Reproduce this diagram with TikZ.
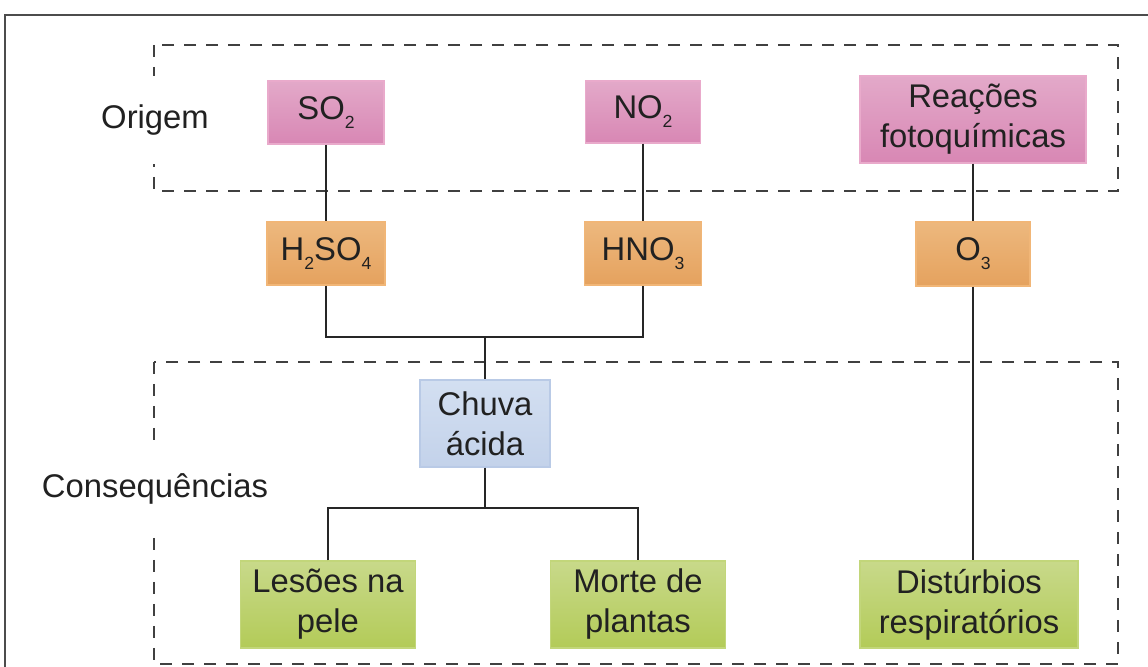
\documentclass[tikz,border=0pt]{standalone}
\usepackage{fontspec}
\setmainfont{Liberation Sans}

\definecolor{rosaA}{HTML}{E3A9C9}
\definecolor{rosaB}{HTML}{D887B4}
\definecolor{rosaL}{HTML}{E9AACB}
\definecolor{laranjaA}{HTML}{EDB87E}
\definecolor{laranjaB}{HTML}{E5A25E}
\definecolor{laranjaL}{HTML}{F1B677}
\definecolor{azulA}{HTML}{D3DFF1}
\definecolor{azulB}{HTML}{C3D2EA}
\definecolor{azulL}{HTML}{B9CAE6}
\definecolor{verdeA}{HTML}{C8D98A}
\definecolor{verdeB}{HTML}{B3CB58}
\definecolor{verdeL}{HTML}{C2D67A}

% 下标
\newcommand{\indice}[1]{\raisebox{-4.5pt}{\fontsize{8.8}{10}\selectfont #1}}

\tikzset{
    caixa/.style={draw, line width=0.6pt, align=center, inner sep=0pt,
        font=\fontsize{16.4}{20}\selectfont, text=black!87},
    fonte/.style={caixa, top color=rosaA, bottom color=rosaB, draw=rosaL},
    acido/.style={caixa, top color=laranjaA, bottom color=laranjaB, draw=laranjaL},
    chuva/.style={caixa, top color=azulA, bottom color=azulB, draw=azulL},
    efeito/.style={caixa, top color=verdeA, bottom color=verdeB, draw=verdeL},
    grupo/.style={draw=black!75, line width=1pt, dash pattern=on 6pt off 5pt},
    ligacao/.style={draw=black!85, line width=0.9pt},
    rotulo/.style={font=\fontsize{16.4}{20}\selectfont, text=black!87,
        fill=white, inner xsep=2pt, minimum height=44pt}
}

\begin{document}
\begin{tikzpicture}[x=0.5pt, y=-0.5pt]
    \useasboundingbox (0,0) rectangle (1148,667);
    \clip (0,0) rectangle (1148,667);

    % 外框
    \draw[black!70, line width=1.3pt] (5,15) rectangle (1170,690);

    % 虚线分组
    \draw[grupo] (154,45) rectangle (1118,191);
    \draw[grupo] (154,362) rectangle (1118,664);
    \node[rotulo] (origem) at (155,120) {Origem};
    \node[rotulo] (consequencias) at (155,489) {Consequências};

    % 来源
    \node[fonte, minimum width=58pt, minimum height=31.5pt] (so2) at (326,112.5) {SO\indice{2}};
    \node[fonte, minimum width=57.5pt, minimum height=31pt] (no2) at (643,112) {NO\indice{2}};
    \node[fonte, minimum width=113pt, minimum height=43.5pt] (reacoes) at (973,119.5) {Reações\\fotoquímicas};

    % 中间产物
    \node[acido, minimum width=59pt, minimum height=31.5pt] (h2so4) at (326,253.5) {H\indice{2}SO\indice{4}};
    \node[acido, minimum width=58.5pt, minimum height=31.5pt] (hno3) at (643,253.5) {HNO\indice{3}};
    \node[acido, minimum width=57pt, minimum height=32pt] (o3) at (973,254) {O\indice{3}};

    % 后果
    \node[chuva, minimum width=65pt, minimum height=43.5pt] (acida) at (485,423.5) {Chuva\\ácida};
    \node[efeito, minimum width=87.5pt, minimum height=43.5pt] (lesoes) at (328,604.5) {Lesões na\\pele};
    \node[efeito, minimum width=87.5pt, minimum height=43.5pt] (morte) at (638,604.5) {Morte de\\plantas};
    \node[efeito, minimum width=109pt, minimum height=43.5pt] (disturbios) at (969,604.5) {Distúrbios\\respiratórios};

    % 连线
    \coordinate (jacida) at (485,337);
    \coordinate (jefeito) at (485,508);
    \draw[ligacao] (so2) -- (h2so4);
    \draw[ligacao] (no2) -- (hno3);
    \draw[ligacao] (reacoes) -- (o3);
    \draw[ligacao] (o3.south) -- (o3.south |- disturbios.north);
    \draw[ligacao] (h2so4.south) |- (jacida) -| (hno3.south);
    \draw[ligacao] (jacida) -- (acida.north);
    \draw[ligacao] (acida.south) -- (jefeito);
    \draw[ligacao] (lesoes.north) |- (jefeito) -| (morte.north);
\end{tikzpicture}
\end{document}
